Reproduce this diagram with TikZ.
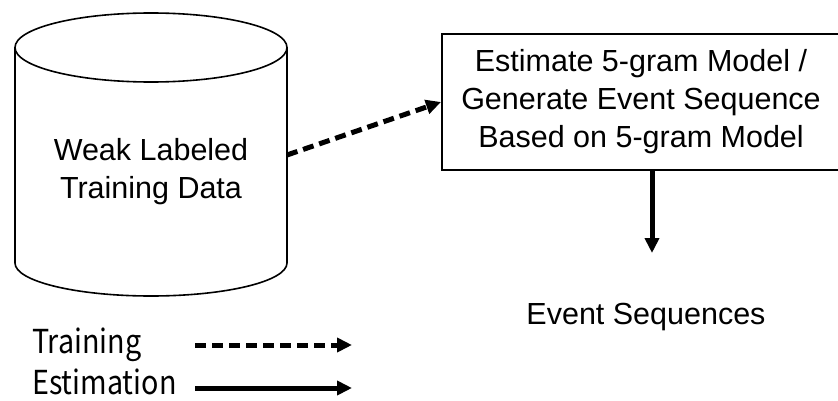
\documentclass[tikz,border=0pt]{standalone}
\usepackage{fontspec}
\setmainfont{Liberation Sans}
\newfontfamily\legendfont[FakeStretch=0.87]{Noto Sans CJK JP}
\usetikzlibrary{arrows.meta}

\begin{document}
\begin{tikzpicture}[x=1pt,y=1pt,
  mainlabel/.style={font=\fontsize{30.5}{38}\selectfont, align=center, inner sep=0pt},
  legendlabel/.style={font=\legendfont\fontsize{33}{40}\selectfont, inner sep=0pt, anchor=base west},
  procbox/.style={draw, line width=2pt, minimum width=398pt, minimum height=136pt, inner sep=0pt},
  flow/.style={line width=5pt, -{Triangle[length=15pt,width=14pt]}},
  trainflow/.style={flow, dash pattern=on 11pt off 6pt}
]
  % canvas
  \useasboundingbox[fill=white] (0,0) rectangle (838,-401);

  % database cylinder
  \draw[line width=1.6pt]
    (15,-47.5) -- (15,-263)
    arc[start angle=180, end angle=360, x radius=136, y radius=33]
    -- (287,-47.5);
  \draw[line width=1.6pt] (151,-47.5) ellipse[x radius=136, y radius=34.5];
  \node[mainlabel] (db) at (151,-172) {Weak Labeled\\Training Data};
  \coordinate (dbout) at (287,-155);

  % n-gram model step
  \node[procbox, mainlabel, draw] (model) at (641,-102)
    {Estimate 5-gram Model /\\Generate Event Sequence\\Based on 5-gram Model};

  % output
  \node[mainlabel, anchor=base] (events) at (646,-324) {Event Sequences};
  \coordinate (modelout) at (652,-170);
  \coordinate (eventsin) at (652,-253);

  % connectors
  \draw[trainflow] (dbout) -- (model.west);
  \draw[flow] (modelout) -- (eventsin);

  % legend
  \node[legendlabel] (ltrain) at (32,-353) {Training};
  \node[legendlabel] (lest) at (32,-394) {Estimation};
  \coordinate (lt1) at (195,-345);
  \coordinate (lt2) at (352,-345);
  \coordinate (le1) at (195,-388);
  \coordinate (le2) at (352,-388);
  \draw[trainflow] (lt1) -- (lt2);
  \draw[flow] (le1) -- (le2);
\end{tikzpicture}
\end{document}
